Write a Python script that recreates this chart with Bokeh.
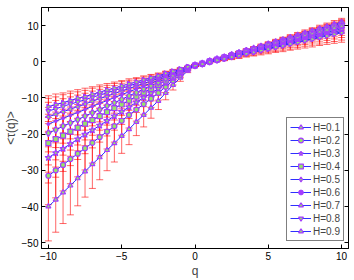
import math
from bokeh.plotting import figure
from bokeh.models import (ColumnDataSource, Whisker, TeeHead, FixedTicker, Range1d,
                          Legend, LegendItem, LinearAxis, CustomLabelingPolicy)
from bokeh.embed import file_html
from bokeh.resources import INLINE

# ---------------- data ----------------
q = [-10.0, -9.5, -9.0, -8.5, -8.0, -7.5, -7.0, -6.5, -6.0, -5.5, -5.0, -4.5, -4.0, -3.5, -3.0,
     -2.5, -2.0, -1.5, -1.0, -0.5, 0.0, 0.5, 1.0, 1.5, 2.0, 2.5, 3.0, 3.5, 4.0, 4.5, 5.0,
     5.5, 6.0, 6.5, 7.0, 7.5, 8.0, 8.5, 9.0, 9.5, 10.0]

labels = ["H=0.1", "H=0.2", "H=0.3", "H=0.4", "H=0.5", "H=0.6", "H=0.7", "H=0.8", "H=0.9"]

t01 = [-40.0,-38.1,-36.1,-34.2,-32.2,-30.3,-28.3,-26.4,-24.4,-22.5,-20.5,-18.6,-16.6,-14.7,-12.7,-10.8,-8.6,-6.4,-4.4,-2.5,-1.0,-0.5,0.2,0.8,1.4,2.0,2.6,3.2,3.8,4.4,5.0,5.6,6.2,6.8,7.4,8.0,8.6,9.2,9.8,10.4,11.0]
t02 = [-31.5,-30.0,-28.5,-26.9,-25.4,-23.9,-22.4,-20.8,-19.3,-17.8,-16.3,-14.7,-13.2,-11.7,-10.2,-8.6,-6.9,-5.2,-3.6,-2.1,-1.0,-0.5,0.2,0.7,1.3,1.9,2.5,3.1,3.6,4.2,4.8,5.4,6.0,6.5,7.1,7.7,8.3,8.9,9.4,10.0,10.6]
t03 = [-26.5,-25.2,-24.0,-22.7,-21.4,-20.1,-18.9,-17.6,-16.3,-15.0,-13.8,-12.5,-11.2,-9.9,-8.7,-7.4,-5.9,-4.5,-3.2,-2.0,-1.0,-0.5,0.1,0.7,1.2,1.8,2.4,2.9,3.5,4.0,4.6,5.2,5.7,6.3,6.8,7.4,8.0,8.5,9.1,9.6,10.2]
t04 = [-22.5,-21.4,-20.4,-19.3,-18.2,-17.1,-16.1,-15.0,-13.9,-12.8,-11.8,-10.7,-9.6,-8.5,-7.5,-6.4,-5.2,-4.0,-2.8,-1.8,-1.0,-0.5,0.1,0.6,1.2,1.7,2.3,2.8,3.4,3.9,4.5,5.0,5.5,6.1,6.6,7.2,7.7,8.3,8.8,9.4,9.9]
t05 = [-19.7,-18.8,-17.8,-16.9,-16.0,-15.0,-14.1,-13.2,-12.2,-11.3,-10.4,-9.4,-8.5,-7.5,-6.6,-5.7,-4.6,-3.6,-2.6,-1.7,-1.0,-0.5,0.1,0.6,1.1,1.6,2.2,2.7,3.2,3.7,4.3,4.8,5.3,5.8,6.4,6.9,7.4,7.9,8.5,9.0,9.5]
t06 = [-17.2,-16.4,-15.6,-14.8,-14.0,-13.2,-12.3,-11.5,-10.7,-9.9,-9.1,-8.3,-7.5,-6.7,-5.9,-5.1,-4.1,-3.2,-2.4,-1.6,-1.0,-0.5,0.0,0.5,1.0,1.5,2.0,2.5,3.0,3.5,4.1,4.6,5.1,5.6,6.1,6.6,7.1,7.6,8.1,8.6,9.1]
t07 = [-15.2,-14.5,-13.8,-13.1,-12.4,-11.7,-10.9,-10.2,-9.5,-8.8,-8.1,-7.4,-6.7,-6.0,-5.3,-4.6,-3.8,-3.0,-2.2,-1.5,-1.0,-0.6,0.0,0.5,0.9,1.4,1.9,2.4,2.9,3.4,3.9,4.3,4.8,5.3,5.8,6.3,6.8,7.2,7.7,8.2,8.7]
t08 = [-13.6,-13.0,-12.3,-11.7,-11.1,-10.5,-9.8,-9.2,-8.6,-7.9,-7.3,-6.7,-6.0,-5.4,-4.8,-4.2,-3.4,-2.7,-2.1,-1.5,-1.0,-0.6,-0.1,0.4,0.9,1.3,1.8,2.3,2.7,3.2,3.7,4.1,4.6,5.0,5.5,6.0,6.4,6.9,7.4,7.8,8.3]
t09 = [-12.4,-11.8,-11.3,-10.7,-10.1,-9.6,-9.0,-8.4,-7.8,-7.3,-6.7,-6.1,-5.6,-5.0,-4.4,-3.9,-3.2,-2.6,-2.0,-1.4,-1.0,-0.6,-0.1,0.4,0.8,1.3,1.7,2.2,2.6,3.1,3.5,4.0,4.4,4.9,5.3,5.8,6.2,6.7,7.1,7.6,8.0]

e01 = [9.5,9.0,8.6,8.1,7.6,7.1,6.7,6.2,5.7,5.2,4.8,4.3,3.8,3.3,2.9,2.4,1.9,1.4,1.0,0.5,0.2,0.1,0.1,0.2,0.2,0.3,0.3,0.4,0.4,0.5,0.5,0.6,0.6,0.7,0.7,0.8,0.8,0.9,0.9,1.0,1.0]
e02 = [8.0,7.6,7.2,6.8,6.4,6.0,5.6,5.2,4.8,4.4,4.0,3.6,3.2,2.8,2.4,2.0,1.6,1.2,0.8,0.4,0.2,0.1,0.1,0.2,0.2,0.3,0.3,0.4,0.4,0.5,0.6,0.6,0.7,0.7,0.8,0.8,0.9,0.9,1.0,1.0,1.1]
e03 = [7.0,6.7,6.3,6.0,5.6,5.3,4.9,4.6,4.2,3.9,3.5,3.2,2.8,2.5,2.1,1.8,1.4,1.1,0.7,0.4,0.2,0.1,0.1,0.2,0.2,0.3,0.4,0.4,0.5,0.5,0.6,0.7,0.7,0.8,0.8,0.9,1.0,1.0,1.1,1.1,1.2]
e04 = [6.0,5.7,5.4,5.1,4.8,4.5,4.2,3.9,3.6,3.3,3.0,2.7,2.4,2.1,1.8,1.5,1.2,0.9,0.6,0.3,0.2,0.1,0.1,0.2,0.3,0.4,0.4,0.5,0.6,0.6,0.7,0.8,0.8,0.9,1.0,1.1,1.1,1.2,1.3,1.3,1.4]
e05 = [5.2,4.9,4.7,4.4,4.2,3.9,3.6,3.4,3.1,2.9,2.6,2.3,2.1,1.8,1.6,1.3,1.0,0.8,0.5,0.3,0.2,0.1,0.2,0.2,0.3,0.4,0.5,0.6,0.6,0.7,0.8,0.9,1.0,1.0,1.1,1.2,1.3,1.4,1.4,1.5,1.6]
e06 = [4.6,4.4,4.1,3.9,3.7,3.5,3.2,3.0,2.8,2.5,2.3,2.1,1.8,1.6,1.4,1.2,0.9,0.7,0.5,0.2,0.2,0.1,0.2,0.3,0.4,0.5,0.5,0.6,0.7,0.8,0.9,1.0,1.1,1.2,1.3,1.4,1.4,1.5,1.6,1.7,1.8]
e07 = [4.0,3.8,3.6,3.4,3.2,3.0,2.8,2.6,2.4,2.2,2.0,1.8,1.6,1.4,1.2,1.0,0.8,0.6,0.4,0.2,0.2,0.1,0.2,0.3,0.4,0.5,0.6,0.7,0.8,0.9,1.0,1.1,1.2,1.3,1.4,1.5,1.6,1.7,1.8,1.9,2.0]
e08 = [3.5,3.3,3.2,3.0,2.8,2.6,2.5,2.3,2.1,1.9,1.8,1.6,1.4,1.2,1.1,0.9,0.7,0.5,0.4,0.2,0.2,0.1,0.2,0.3,0.5,0.6,0.7,0.8,0.9,1.0,1.2,1.3,1.4,1.5,1.6,1.7,1.8,2.0,2.1,2.2,2.3]
e09 = [3.0,2.9,2.7,2.6,2.4,2.3,2.1,2.0,1.8,1.7,1.5,1.4,1.2,1.1,0.9,0.8,0.6,0.5,0.3,0.2,0.2,0.1,0.3,0.4,0.5,0.7,0.8,0.9,1.0,1.2,1.3,1.4,1.6,1.7,1.8,2.0,2.1,2.2,2.3,2.5,2.6]

x_ticks = [-10, -5, 0, 5, 10]
y_ticks = [-50, -40, -30, -20, -10, 0, 10]

series = [t01, t02, t03, t04, t05, t06, t07, t08, t09]
errors = [e01, e02, e03, e04, e05, e06, e07, e08, e09]

# marker styles (marker, size, angle)
styles = [("triangle", 5, 0.0), ("circle", 5, 0.0), ("star", 7, 0.0), ("square", 5, 0.0),
          ("diamond", 7, 0.0), ("circle", 3, 0.0), ("triangle", 5, math.pi / 2),
          ("inverted_triangle", 5, 0.0), ("triangle", 5, -math.pi / 2)]

FONT = "Liberation Sans"
EDGE = "#a43cff"
FILL = "#96e36a"
LINE = "#2f2fff"

p = figure(width=354, height=280, output_backend="svg", toolbar_location=None,
           x_range=Range1d(-10.47, 10.47), y_range=Range1d(-51.6, 15.0),
           min_border_left=39, min_border_right=6, min_border_top=7, min_border_bottom=29)
p.background_fill_color = "white"
p.border_fill_color = "white"
p.outline_line_color = "black"
p.grid.visible = False

no_labels = CustomLabelingPolicy(code="""
try { for (let i = 0; i < indices.size; i++) { indices.unset(i) } } catch (e) {}
return indices
""")

def style_axis(ax, ticks, show_labels=True):
    ax.ticker = FixedTicker(ticks=ticks)
    ax.major_tick_in = 4
    ax.major_tick_out = 0
    ax.minor_tick_line_color = None
    ax.axis_line_color = "black"
    ax.major_tick_line_color = "black"
    ax.major_label_text_font = FONT
    ax.major_label_text_color = "black"
    if show_labels:
        ax.major_label_text_font_size = "10px"
        ax.major_label_standoff = 3
        ax.major_label_overrides = {t: (str(t) if t >= 0 else "\u2212" + str(-t)) for t in ticks}
    else:
        ax.major_label_policy = no_labels
        ax.major_label_text_font_size = "0px"
        ax.major_label_standoff = 0

style_axis(p.xaxis[0], x_ticks)
style_axis(p.yaxis[0], y_ticks)
p.xaxis.axis_label = "q"
p.yaxis.axis_label = "<\u03c4(q)>"
for ax in (p.xaxis[0], p.yaxis[0]):
    ax.axis_label_text_font = FONT
    ax.axis_label_text_font_size = "12px"
    ax.axis_label_text_font_style = "normal"
    ax.axis_label_standoff = 1

ax_r = LinearAxis()
style_axis(ax_r, y_ticks, show_labels=False)
p.add_layout(ax_r, "right")
ax_t = LinearAxis()
style_axis(ax_t, x_ticks, show_labels=False)
p.add_layout(ax_t, "above")

# error bars first (underneath)
for t, e in zip(series, errors):
    src = ColumnDataSource(dict(q=q, upper=[a + b for a, b in zip(t, e)],
                                lower=[a - b for a, b in zip(t, e)]))
    w = Whisker(source=src, base="q", upper="upper", lower="lower", level="underlay",
                line_color="red", line_alpha=0.6, line_width=1,
                upper_head=TeeHead(size=7, line_color="red", line_alpha=0.6),
                lower_head=TeeHead(size=7, line_color="red", line_alpha=0.6))
    p.add_layout(w)

items = []
line_rs = []
for t in series:
    line_rs.append(p.line(q, t, line_color=LINE, line_width=1))
for lab, t, (mk, sz, ang), lr in zip(labels, series, styles, line_rs):
    if sz <= 3:
        sr = p.scatter(q, t, marker=mk, size=sz, angle=ang, line_color=EDGE, fill_color=EDGE)
    else:
        sr = p.scatter(q, t, marker=mk, size=sz, angle=ang, line_color=EDGE, fill_color=FILL,
                       line_width=1.2)
    items.append(LegendItem(label=lab, renderers=[lr, sr]))

legend = Legend(items=items, location=(245, 7),
                label_text_font=FONT, label_text_font_size="10px",
                glyph_width=21, glyph_height=12, label_height=12, spacing=1,
                padding=3, label_standoff=2,
                border_line_color="black", border_line_width=1,
                background_fill_color="white", background_fill_alpha=1.0)
p.add_layout(legend)

open("out.html", "w").write(file_html(p, INLINE))
